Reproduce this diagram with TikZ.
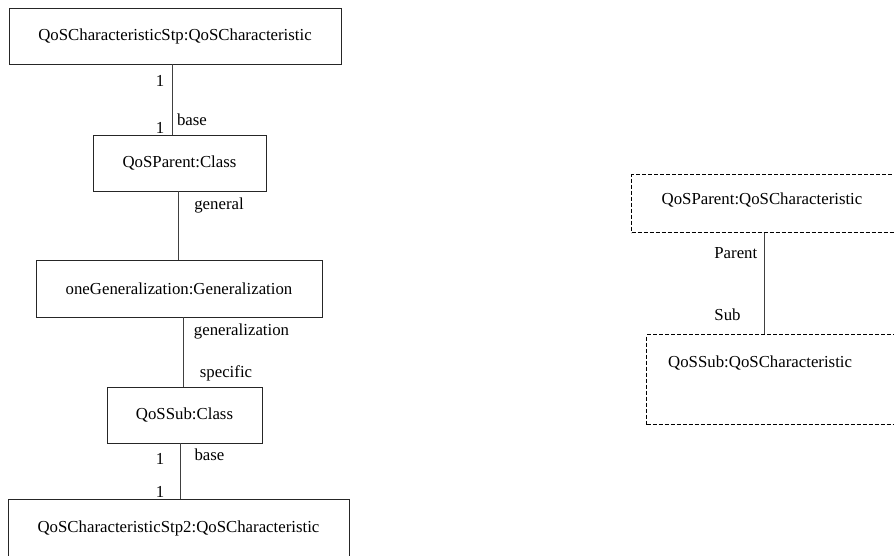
\documentclass[tikz,border=0pt]{standalone}
\usepackage{fontspec}
\setmainfont{Liberation Serif}
\begin{document}
\begin{tikzpicture}[x=1pt,y=-1pt,
  txt/.style={font=\fontsize{16.8pt}{19pt}\selectfont, inner sep=0pt},
  obox/.style={draw=black!85, line width=0.8pt, font=\fontsize{16.8pt}{19pt}\selectfont, inner sep=2pt},
  dbox/.style={draw=black, line width=1.2pt, dash pattern=on 4pt off 2pt, inner sep=0pt},
  conn/.style={draw=black!75, line width=0.7pt}]
\useasboundingbox (0,0) rectangle (894,556);
\clip (0,0) rectangle (894,556);
% left chain
\node[obox, minimum width=332pt, minimum height=56pt] (b1) at (175,36) {QoSCharacteristicStp:QoSCharacteristic};
\node[obox, minimum width=173pt, minimum height=56pt] (p1) at (179.5,163) {QoSParent:Class};
\node[obox, minimum width=286pt, minimum height=57pt] (g1) at (179,288.5) {oneGeneralization:Generalization};
\node[obox, minimum width=155pt, minimum height=56pt] (s1) at (184.5,415) {QoSSub:Class};
\node[obox, minimum width=341pt, minimum height=58pt] (b2) at (178.5,528) {QoSCharacteristicStp2:QoSCharacteristic};
\draw[conn] (b1.south -| 172,0) -- (p1.north -| 172,0);
\draw[conn] (p1.south -| 178,0) -- (g1.north -| 178,0);
\draw[conn] (g1.south -| 183,0) -- (s1.north -| 183,0);
\draw[conn] (s1.south -| 180,0) -- (b2.north -| 180,0);
\node[txt] (l1a) at (160,81) {1};
\node[txt] (l1b) at (192,120) {base};
\node[txt] (l1c) at (160,128) {1};
\node[txt] (l2a) at (219,205) {general};
\node[txt] (l3a) at (241.5,331) {generalization};
\node[txt] (l3b) at (226,373) {specific};
\node[txt] (l4a) at (160,459) {1};
\node[txt] (l4b) at (209.5,455) {base};
\node[txt] (l4c) at (160,492) {1};
% right pair
\node[dbox, anchor=north west, minimum width=275pt, minimum height=58pt] (rp) at (631,174) {};
\node[txt, anchor=west] (rpt) at ([xshift=30.5pt,yshift=-26pt]rp.north west) {QoSParent:QoSCharacteristic};
\node[dbox, anchor=north west, minimum width=260pt, minimum height=90pt] (rs) at (646,334) {};
\node[txt, anchor=west] (rst) at ([xshift=22pt,yshift=-29.5pt]rs.north west) {QoSSub:QoSCharacteristic};
\draw[conn] (rp.south -| 764,0) -- (rs.north -| 764,0);
\node[txt, anchor=east] (lpa) at (757.5,253) {Parent};
\node[txt] (lpb) at (727.5,315) {Sub};
\end{tikzpicture}
\end{document}
